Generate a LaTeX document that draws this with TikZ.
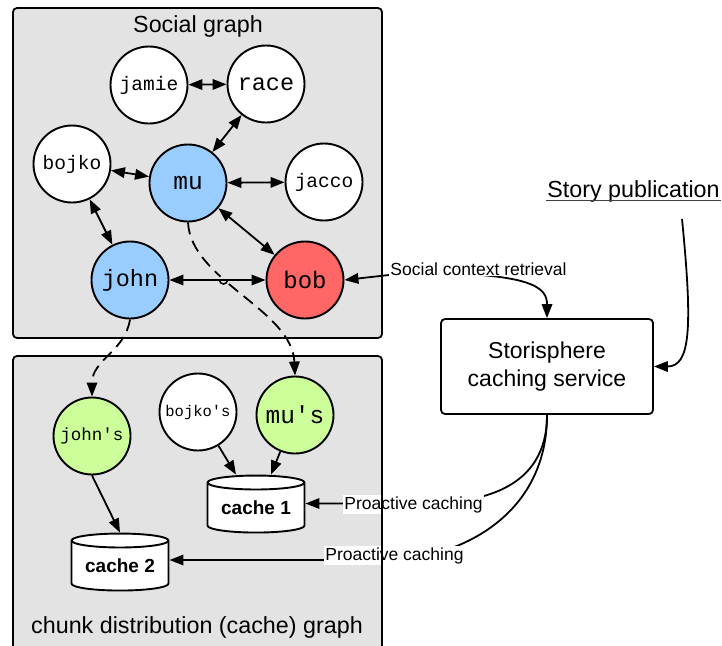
\documentclass[tikz,border=0pt]{standalone}
\usepackage{fontspec}
\setmainfont{Liberation Sans}
\newfontfamily\monofont{Liberation Mono}
\usetikzlibrary{arrows.meta,shapes.geometric,intersections}
\definecolor{panelgray}{HTML}{E3E3E3}
\definecolor{userblue}{HTML}{99CCFF}
\definecolor{userred}{HTML}{FF6666}
\definecolor{chunkgreen}{HTML}{CCFF99}
\newcommand\fsz[1]{\fontsize{#1}{#1}\selectfont}
\tikzset{
  panel/.style={fill=panelgray, draw, line width=1.8pt, rounded corners=4pt},
  person/.style={circle, draw, line width=1.9pt, fill=white, minimum size=77pt,
    inner sep=0pt, font=\monofont\fsz{#1}},
  store/.style={cylinder, shape border rotate=90, aspect=0.2, draw, line width=1.9pt,
    fill=white, minimum width=97pt, minimum height=57pt, inner sep=0pt,
    font=\bfseries\fsz{19}},
  service/.style={draw, line width=1.8pt, fill=white, rounded corners=4pt,
    minimum width=212pt, minimum height=95pt, align=center,
    font=\fontsize{23}{28}\selectfont},
  link/.style={line width=1.8pt, <->},
  feed/.style={line width=1.8pt, ->},
  dashlink/.style={line width=1.8pt, dash pattern=on 12pt off 7pt, ->},
  flowlabel/.style={fill=white, inner sep=1pt, font=\fsz{17.5}, anchor=base},
  title/.style={font=\fsz{23.3}, anchor=base, inner sep=1pt},
}
\begin{document}
\begin{tikzpicture}[x=1pt, y=-1pt, >={Triangle[length=14pt,width=10.5pt]}]
\useasboundingbox (0,0) rectangle (722,645);
\clip (0,0) rectangle (722,645);

% the two panels
\path[panel] (13,8) rectangle (382,338);
\path[panel] (13,356) rectangle (382,680);
\node[title] (socialtitle) at (198,32) {Social graph};
\node[title] (chunktitle) at (197,633) {chunk distribution (cache) graph};

% social graph
\node[person=19.5] (jamie) at (149,85) {jamie};
\node[person=23.5] (race) at (266,84) {race};
\node[person=19.5] (bojko) at (72,164) {bojko};
\node[person=24.5, fill=userblue] (mu) at (188,183) {mu};
\node[person=19.5] (jacco) at (324,182) {jacco};
\node[person=23.5, fill=userblue] (john) at (130,280) {john};
\node[person=24, fill=userred] (bob) at (305,280) {bob};

\draw[link] (jamie) -- (race);
\draw[link] (mu) -- (race);
\draw[link] (bojko) -- (mu);
\draw[link] (mu) -- (jacco);
\draw[link] (bojko) -- (john);
\draw[link] (mu) -- (bob);
\draw[link, name path=johnbob] (john) -- (bob);

% chunk distribution graph
\node[person=17.5, fill=chunkgreen] (johns) at (92,436) {john's};
\node[person=15.5] (bojkos) at (198,412) {bojko's};
\node[person=24.5, fill=chunkgreen] (mus) at (295,415) {mu's};
\node[store] (cache1) at (256,508) {cache 1};
\node[store] (cache2) at (120,566) {cache 2};

\draw[feed] (bojkos) -- ([xshift=-20pt]cache1.north);
\draw[feed] (mus) -- ([xshift=15pt]cache1.north);
\draw[feed] (johns.south) -- (cache2.north);

% user to chunk mapping
\draw[dashlink, name path=mudash] (mu.south) .. controls +(3,58) and +(-3,-66) .. (mus.north);
\draw[dashlink] (john.south) .. controls +(-5,32) and +(0,-37) .. (johns.north);
\path[name intersections={of=johnbob and mudash, by=hop}];
\fill[panelgray] (hop) circle (4.5pt);
\draw[line width=1.8pt] ([xshift=-5pt]hop) -- ([xshift=5pt]hop);
\draw[line width=1.6pt] ([xshift=-4pt]hop) arc[start angle=180, end angle=360, radius=4pt];

% caching service
\node[service] (stor) at (547,366.5) {Storisphere\\caching service};
\node[title] (pub) at (633.5,197) {Story publication};
\draw[line width=1.5pt, black!75] ([yshift=-3.5pt]pub.base west) -- ([yshift=-3.5pt]pub.base east);
\coordinate (pubfoot) at (682,219);
\draw[feed] (pubfoot) .. controls (693,330) and (690,366.5) .. (stor.east);

\draw[link] (bob.east) -- (407,273) .. controls (535,272) and (547,288) .. (stor.north);
\node[flowlabel] (ctxlabel) at (478.5,275) {Social context retrieval};

\draw[feed] (stor.south) .. controls +(0,75) and +(60,0) .. (420,503.5) -- (cache1.east |- 0,503.5);
\draw[feed] (stor.south) .. controls +(0,95) and +(70,-7) .. (400,560) -- (cache2.east |- 0,560);
\node[flowlabel] (pc1) at (413.5,509) {Proactive caching};
\node[flowlabel] (pc2) at (394.5,560) {Proactive caching};

% panel edge stays visible over the label backgrounds
\draw[line width=1.8pt] (382,420) -- (382,600);
\end{tikzpicture}
\end{document}
